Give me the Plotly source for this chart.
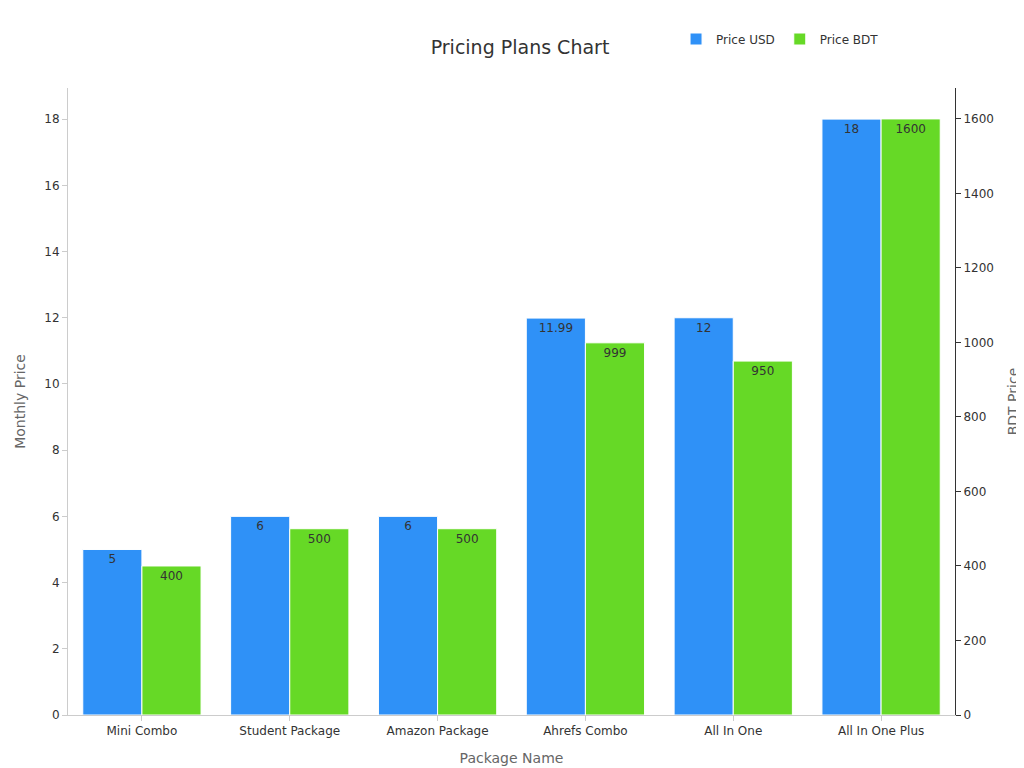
import plotly.graph_objects as go

packages = ["Mini Combo", "Student Package", "Amazon Package", "Ahrefs Combo", "All In One", "All In One Plus"]
price_usd = [5, 6, 6, 11.99, 12, 18]
price_bdt = [400, 500, 500, 999, 950, 1600]

fig = go.Figure()
fig.add_trace(go.Bar(x=packages, y=price_usd, name="Price USD", offsetgroup=1,
                     marker=dict(color="#2f91f7", line=dict(color="white", width=1)),
                     text=[str(v) for v in price_usd], textposition="inside",
                     insidetextanchor="end", textfont=dict(color="#333", size=12),
                     yaxis="y"))
fig.add_trace(go.Bar(x=packages, y=price_bdt, name="Price BDT", offsetgroup=2,
                     marker=dict(color="#66d926", line=dict(color="white", width=1)),
                     text=[str(v) for v in price_bdt], textposition="inside",
                     insidetextanchor="end", textfont=dict(color="#333", size=12),
                     yaxis="y2"))

fig.update_layout(
    width=1024, height=768,
    font=dict(family="DejaVu Sans", size=12, color="#333"),
    title=dict(text="Pricing Plans Chart", x=0.5, y=0.957, xanchor="center",
               font=dict(size=19, color="#333")),
    paper_bgcolor="white", plot_bgcolor="white",
    margin=dict(l=60, r=77, t=80, b=61),
    barmode="group", bargap=0.2, bargroupgap=0,
    legend=dict(orientation="h", x=0.92, xanchor="right", y=1.055, yanchor="bottom",
                font=dict(size=12), itemwidth=30),
    xaxis=dict(title=dict(text="Package Name", font=dict(size=14, color="#666")),
               showline=True, linecolor="#ccc", ticks="outside", ticklen=5,
               tickcolor="#ccc", tickfont=dict(size=12)),
    yaxis=dict(title=dict(text="Monthly Price", font=dict(size=14, color="#666")),
               range=[0, 18.94], dtick=2, showgrid=False, showline=True,
               linecolor="#ccc", ticks="outside", tickcolor="#ccc", ticklen=5,
               zeroline=False),
    yaxis2=dict(title=dict(text="BDT Price", font=dict(size=14, color="#666")),
                overlaying="y", side="right", range=[0, 1683], dtick=200,
                showgrid=False, showline=True, linecolor="#333", ticks="outside",
                tickcolor="#333", ticklen=5, zeroline=False),
    uniformtext=dict(mode="show", minsize=12),
)
fig.write_html("out.html")
